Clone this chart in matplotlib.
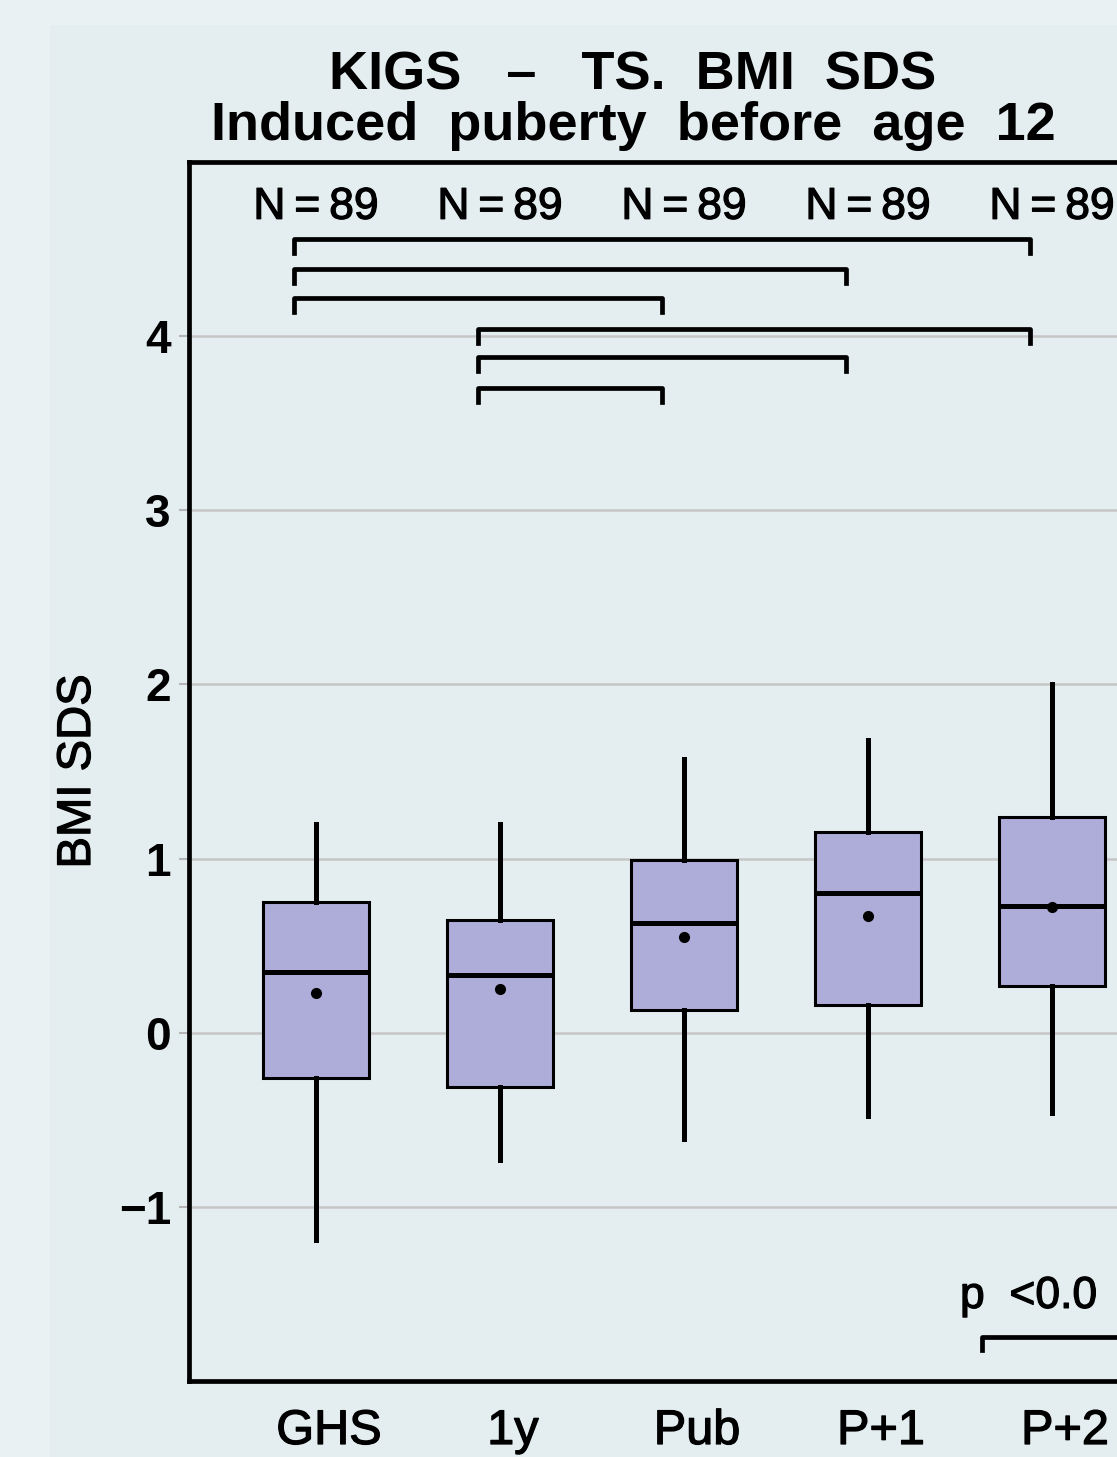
import matplotlib
matplotlib.use("Agg")
import matplotlib.pyplot as plt
import matplotlib.patheffects as pe
import matplotlib.transforms as mtransforms
from matplotlib.patches import Rectangle

plt.rcParams["font.family"] = ["Liberation Sans", "DejaVu Sans"]

categories = ["GHS", "1y", "Pub", "P+1", "P+2"]
n_labels = ["N\u2009=\u200989"] * 5
whislo = [-1.19, -0.73, -0.61, -0.48, -0.46]
q1 = [-0.26, -0.31, 0.13, 0.16, 0.27]
median = [0.35, 0.33, 0.63, 0.80, 0.73]
q3 = [0.75, 0.65, 0.99, 1.15, 1.24]
whishi = [1.20, 1.20, 1.57, 1.68, 2.00]
means = [0.23, 0.25, 0.55, 0.67, 0.72]
# significance brackets (from category index, to category index, level)
br_from = [1, 1, 1, 2, 2, 2]
br_to = [5, 4, 3, 5, 4, 3]
br_level = [4.56, 4.385, 4.22, 4.04, 3.88, 3.70]
yticks = [-1, 0, 1, 2, 3, 4]

W, H = 1117, 1457
heavy = [pe.withStroke(linewidth=0.9, foreground="black")]

fig = plt.figure(figsize=(W / 100, H / 100), dpi=100)
fig.patch.set_facecolor("#eaf1f3")
fig.add_artist(Rectangle((50 / W, 0), 1, 1 - 25 / H, transform=fig.transFigure,
                         facecolor="#e4edf0", edgecolor="none", zorder=0))

ax = fig.add_axes([189 / W, 1 - 1381 / H, (W - 189) / W, (1381 - 162) / H])
ax.patch.set_alpha(0)

pos = list(range(1, len(categories) + 1))
stats = []
for i in range(len(categories)):
    stats.append(dict(med=median[i], q1=q1[i], q3=q3[i], whislo=whislo[i],
                      whishi=whishi[i], mean=means[i], fliers=[]))
ax.bxp(stats, positions=pos, widths=0.58, patch_artist=True, showmeans=True,
       showcaps=False,
       boxprops=dict(facecolor="#aeacd9", edgecolor="black", linewidth=2.2),
       medianprops=dict(color="black", linewidth=3.6),
       whiskerprops=dict(color="black", linewidth=3.6),
       meanprops=dict(marker="o", markerfacecolor="black", markeredgecolor="black",
                      markersize=7),
       zorder=3)

ax.set_ylim(-2.0, 5.0)
ax.set_xlim(0.31, 1 + (W - 316) / 184)
ax.set_yticks(yticks)
ax.set_yticklabels(["\u22121" if t < 0 else str(t) for t in yticks],
                   fontsize=33, fontweight="bold")
ax.set_xticks(pos)
ax.set_xticklabels([])
ax.tick_params(axis="y", length=7, width=1.5, color="#b5b5b5", pad=6)
ax.tick_params(axis="x", length=0)
ax.grid(axis="y", color="#c6c6c6", linewidth=1.8, zorder=1)
ax.set_axisbelow(True)
for s in ["left", "top", "bottom"]:
    ax.spines[s].set_linewidth(3.4)
    ax.spines[s].set_color("black")
ax.spines["right"].set_visible(False)

# category labels, nudged slightly right of the box centres as in the original
lab_tr = mtransforms.blended_transform_factory(ax.transData, ax.transAxes) + \
    mtransforms.ScaledTranslation(0.13, -0.28, fig.dpi_scale_trans)
for i, c in enumerate(categories):
    ax.text(pos[i], 0, c, transform=lab_tr, ha="center", va="top", fontsize=35,
            path_effects=heavy, clip_on=False)

ylab = ax.set_ylabel("BMI SDS", fontsize=34)
ylab.set_path_effects(heavy)
ax.yaxis.set_label_coords(-(189 - 100) / (W - 189), 0.5)

for i, lab in enumerate(n_labels):
    ax.text(pos[i], 4.74, lab, ha="center", va="center", fontsize=32,
            path_effects=heavy)

tick = 0.08
for a, b, lv in zip(br_from, br_to, br_level):
    x0, x1 = a - 0.12, b - 0.12
    ax.plot([x0, x0, x1, x1], [lv - tick, lv, lv, lv - tick], color="black",
            linewidth=3.4, zorder=4)

ax.plot([4.62, 4.62, 5.6], [-1.82, -1.75, -1.75], color="black", linewidth=3.4,
        clip_on=False, zorder=4)
ax.text(4.50, -1.58, "p  <0.0", ha="left", va="baseline", fontsize=32,
        path_effects=heavy)

fig.text(633 / W, 1 - 90 / H, "KIGS   \u2013   TS.  BMI  SDS", ha="center",
         va="baseline", fontsize=39, fontweight="bold")
fig.text(633 / W, 1 - 140 / H, "Induced  puberty  before  age  12", ha="center",
         va="baseline", fontsize=39, fontweight="bold")

fig.savefig("out.png", dpi=100, facecolor=fig.get_facecolor())
